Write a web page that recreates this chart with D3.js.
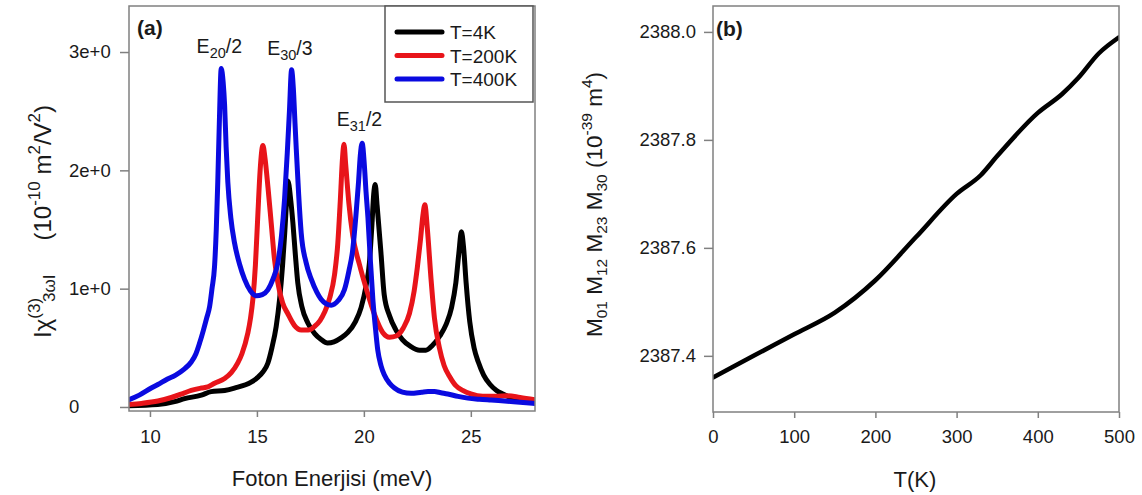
<!DOCTYPE html>
<html>
<head>
<meta charset="utf-8">
<script src="https://cdn.jsdelivr.net/npm/d3@7"></script>
<style>
  body { margin: 0; background: #fff; }
  svg text { font-family: "Liberation Sans", Arial, sans-serif; fill: #1a1a1a; }
</style>
</head>
<body>
<svg id="chart" width="1142" height="495"></svg>
<script>
// panel (a): |chi(3)| vs photon energy, [meV, 1e-10 m^2/V^2]
var chi4K = [
    [9.0, 0.01], [10.36, 0.02], [11.15, 0.045], [11.62, 0.07], [12.4, 0.1], [12.86, 0.13],
    [13.49, 0.14], [13.95, 0.16], [14.73, 0.21], [15.04, 0.25], [15.3, 0.3], [15.51, 0.37],
    [15.7, 0.5], [15.9, 0.68], [16.06, 0.91], [16.2, 1.2], [16.3, 1.47], [16.38, 1.72],
    [16.45, 1.91], [16.58, 1.75], [16.68, 1.56], [16.8, 1.28], [16.91, 1.05], [17.1, 0.85],
    [17.38, 0.71], [17.7, 0.62], [18.0, 0.57], [18.3, 0.54], [18.6, 0.55], [18.9, 0.58],
    [19.25, 0.63], [19.6, 0.72], [19.87, 0.84], [20.1, 1.02], [20.26, 1.22], [20.38, 1.55],
    [20.46, 1.8], [20.53, 1.88], [20.62, 1.7], [20.8, 1.3], [20.95, 0.95], [21.2, 0.77],
    [21.5, 0.65], [21.8, 0.57], [22.2, 0.51], [22.6, 0.48], [22.9, 0.48], [23.2, 0.52],
    [23.55, 0.6], [23.85, 0.7], [24.1, 0.84], [24.3, 1.05], [24.44, 1.3], [24.56, 1.48],
    [24.66, 1.35], [24.78, 1.05], [24.95, 0.72], [25.15, 0.5], [25.35, 0.38], [25.6, 0.27],
    [25.9, 0.19], [26.2, 0.14], [26.5, 0.11], [26.8, 0.085], [27.4, 0.065], [28.0, 0.045]
];
var chi200K = [
    [9.0, 0.02], [9.6, 0.03], [10.37, 0.05], [11.0, 0.08], [11.62, 0.12], [11.93, 0.14],
    [12.4, 0.16], [12.71, 0.17], [13.02, 0.2], [13.49, 0.24], [13.8, 0.29], [14.1, 0.37],
    [14.3, 0.45], [14.57, 0.62], [14.7, 0.75], [14.81, 0.91], [14.93, 1.2], [15.04, 1.61],
    [15.15, 2.0], [15.28, 2.21], [15.38, 2.1], [15.52, 1.85], [15.67, 1.55], [15.82, 1.25],
    [15.98, 1.05], [16.2, 0.88], [16.44, 0.79], [16.75, 0.69], [17.07, 0.65], [17.4, 0.65],
    [17.69, 0.68], [17.95, 0.73], [18.16, 0.8], [18.4, 0.92], [18.63, 1.12], [18.78, 1.38],
    [18.9, 1.75], [19.0, 2.1], [19.07, 2.22], [19.15, 2.05], [19.3, 1.72], [19.48, 1.45],
    [19.8, 1.2], [20.11, 1.0], [20.5, 0.78], [20.88, 0.63], [21.2, 0.59], [21.51, 0.6],
    [21.85, 0.67], [22.13, 0.79], [22.35, 0.98], [22.5, 1.18], [22.65, 1.42], [22.76, 1.62],
    [22.85, 1.71], [22.97, 1.5], [23.14, 1.08], [23.3, 0.75], [23.53, 0.5], [23.75, 0.35],
    [24.0, 0.26], [24.3, 0.18], [24.62, 0.14], [25.0, 0.11], [25.56, 0.09], [26.2, 0.09],
    [26.7, 0.095], [27.3, 0.08], [28.0, 0.06]
];
var chi400K = [
    [9.0, 0.06], [9.5, 0.1], [10.06, 0.16], [10.37, 0.19], [10.8, 0.235], [11.2, 0.27],
    [11.6, 0.32], [11.93, 0.38], [12.15, 0.45], [12.32, 0.54], [12.5, 0.65],
    [12.65, 0.75], [12.79, 0.85], [12.9, 1.0], [13.02, 1.19], [13.1, 1.5], [13.17, 1.9],
    [13.25, 2.45], [13.33, 2.86], [13.42, 2.75], [13.49, 2.55], [13.56, 2.2], [13.64, 1.9],
    [13.78, 1.6], [13.95, 1.39], [14.2, 1.2], [14.42, 1.08], [14.7, 0.98], [14.97, 0.94],
    [15.25, 0.95], [15.51, 0.99], [15.75, 1.08], [15.98, 1.22], [16.15, 1.45], [16.29, 1.75],
    [16.42, 2.15], [16.52, 2.5], [16.62, 2.85], [16.7, 2.7], [16.78, 2.4], [16.84, 2.18],
    [16.95, 1.8], [17.07, 1.47], [17.3, 1.22], [17.54, 1.08], [17.8, 0.97], [18.0, 0.91],
    [18.25, 0.87], [18.47, 0.86], [18.8, 0.9], [19.09, 0.99], [19.3, 1.15], [19.48, 1.33],
    [19.62, 1.6], [19.75, 1.9], [19.83, 2.12], [19.92, 2.23], [20.02, 2.05], [20.1, 1.82],
    [20.19, 1.6], [20.3, 1.25], [20.42, 0.91], [20.55, 0.65], [20.65, 0.48], [20.8, 0.35],
    [20.96, 0.27], [21.2, 0.2], [21.43, 0.16], [21.8, 0.125], [22.21, 0.115], [22.7, 0.125],
    [23.0, 0.13], [23.3, 0.13], [23.6, 0.12], [23.92, 0.11], [24.4, 0.09], [24.86, 0.075],
    [25.4, 0.065], [25.95, 0.058], [27.0, 0.045], [28.0, 0.03]
];
var seriesNames = ["T=4K", "T=200K", "T=400K"];
var seriesColors = ["#000000", "#e8141a", "#0a0ae0"];
var energyTicks = [10, 15, 20, 25];
var chiTicks = [0, 1, 2, 3];
var chiTickLabels = ["0", "1e+0", "2e+0", "3e+0"];
// peak labels: [energy, chi, main, sub, tail]
var peakLabels = [
    [13.35, 3.0, "E", "20", "/2"],
    [16.65, 2.98, "E", "30", "/3"],
    [19.9, 2.38, "E", "31", "/2"]
];

// panel (b): M01 M12 M23 M30 vs T
var tempK = [0, 50, 100, 150, 200, 250, 300, 330, 350, 400, 430, 450, 475, 500];
var moment = [2387.36, 2387.40, 2387.44, 2387.48, 2387.54, 2387.62, 2387.70, 2387.735,
              2387.77, 2387.85, 2387.885, 2387.915, 2387.96, 2387.99];
var tempTicks = [0, 100, 200, 300, 400, 500];
var momentTicks = [2387.4, 2387.6, 2387.8, 2388.0];

var svg = d3.select("#chart");
var axisColor = "#808080";

function styleAxis(g){
    g.select(".domain").remove();
    g.selectAll(".tick line").attr("stroke", axisColor).attr("stroke-width", 1.5);
    g.selectAll(".tick text").attr("font-size", 18.5).attr("fill", "#1a1a1a")
        .attr("font-family", "'Liberation Sans', Arial, sans-serif");
}

// ---------- panel (a)
var ax = d3.scaleLinear().domain([9.02, 28]).range([129, 535]);
var ay = d3.scaleLinear().domain([-0.034, 3.389]).range([411, 6]);

var gA = svg.append("g");

gA.append("g").attr("transform", "translate(0,411)")
    .call(d3.axisBottom(ax).tickValues(energyTicks).tickSize(6).tickPadding(13))
    .call(styleAxis);

gA.append("g").attr("transform", "translate(129,0)")
    .call(d3.axisLeft(ay).tickValues(chiTicks).tickSize(9)
        .tickFormat(function(d, i){ return chiTickLabels[i]; }))
    .call(styleAxis)
    .selectAll(".tick text").attr("text-anchor", "start").attr("x", -60);

var line = d3.line()
    .x(function(d){ return ax(d[0]); })
    .y(function(d){ return ay(d[1]); })
    .curve(d3.curveMonotoneX);

var clipA = svg.append("defs").append("clipPath").attr("id", "clipA")
    .append("rect").attr("x", 129).attr("y", 6).attr("width", 406).attr("height", 405);

[chi4K, chi200K, chi400K].forEach(function(s, i){
    gA.append("path").datum(s)
        .attr("d", line)
        .attr("clip-path", "url(#clipA)")
        .attr("fill", "none")
        .attr("stroke", seriesColors[i])
        .attr("stroke-width", 5)
        .attr("stroke-linejoin", "round")
        .attr("stroke-linecap", "round");
});

gA.append("rect").attr("x", 129).attr("y", 6).attr("width", 406).attr("height", 405)
    .attr("fill", "none").attr("stroke", axisColor).attr("stroke-width", 1.5);

peakLabels.forEach(function(p){
    var t = gA.append("text").attr("x", ax(p[0]) - 25).attr("y", ay(p[1]) + 1)
        .attr("font-size", 19.5);
    t.append("tspan").text(p[2]);
    t.append("tspan").attr("font-size", 14.5).attr("dy", 5).text(p[3]);
    t.append("tspan").attr("dy", -5).text(p[4]);
});

gA.append("text").attr("x", 137).attr("y", 35).attr("font-size", 21)
    .attr("font-weight", "bold").text("(a)");

// legend
var leg = gA.append("g");
leg.append("rect").attr("x", 385).attr("y", 6).attr("width", 148).attr("height", 96)
    .attr("fill", "#fff").attr("stroke", "#555").attr("stroke-width", 1.5);
seriesNames.forEach(function(n, i){
    var yy = 32 + i * 23.5;
    leg.append("line").attr("x1", 397).attr("x2", 442).attr("y1", yy).attr("y2", yy)
        .attr("stroke", seriesColors[i]).attr("stroke-width", 5).attr("stroke-linecap", "round");
    leg.append("text").attr("x", 450).attr("y", yy + 7).attr("font-size", 19).text(n);
});

gA.append("text").attr("x", 332).attr("y", 486).attr("text-anchor", "middle")
    .attr("font-size", 22).text("Foton Enerjisi (meV)");

var ytA = gA.append("text").attr("transform", "translate(51,338) rotate(-90)")
    .attr("font-size", 24);
ytA.append("tspan").text("I\u03c7");
ytA.append("tspan").attr("font-size", 17).attr("dy", -11).text("(3)");
ytA.append("tspan").attr("font-size", 17).attr("dy", 15).attr("dx", -4).text("3\u03c9I");
ytA.append("tspan").attr("dy", -4).attr("dx", 34).text("(10");
ytA.append("tspan").attr("font-size", 17).attr("dy", -11).text("-10");
ytA.append("tspan").attr("dy", 11).text(" m");
ytA.append("tspan").attr("font-size", 17).attr("dy", -11).text("2");
ytA.append("tspan").attr("dy", 11).text("/V");
ytA.append("tspan").attr("font-size", 17).attr("dy", -11).text("2");
ytA.append("tspan").attr("dy", 11).text(")");

// ---------- panel (b)
var bx = d3.scaleLinear().domain([0, 500]).range([713, 1119]);
var by = d3.scaleLinear().domain([2387.296, 2388.048]).range([412, 6]);

var gB = svg.append("g");

gB.append("g").attr("transform", "translate(0,412)")
    .call(d3.axisBottom(bx).tickValues(tempTicks).tickSize(6).tickPadding(12))
    .call(styleAxis);

gB.append("g").attr("transform", "translate(713,0)")
    .call(d3.axisLeft(by).tickValues(momentTicks).tickSize(9).tickPadding(8)
        .tickFormat(d3.format(".1f")))
    .call(styleAxis);

var clipB = svg.select("defs").append("clipPath").attr("id", "clipB")
    .append("rect").attr("x", 713).attr("y", 6).attr("width", 406).attr("height", 406);

gB.append("path").datum(d3.zip(tempK, moment))
    .attr("d", d3.line()
        .x(function(d){ return bx(d[0]); })
        .y(function(d){ return by(d[1]); })
        .curve(d3.curveMonotoneX))
    .attr("clip-path", "url(#clipB)")
    .attr("fill", "none").attr("stroke", "#000").attr("stroke-width", 4.5)
    .attr("stroke-linecap", "round");

gB.append("rect").attr("x", 713).attr("y", 6).attr("width", 406).attr("height", 406)
    .attr("fill", "none").attr("stroke", axisColor).attr("stroke-width", 1.5);

gB.append("text").attr("x", 716).attr("y", 36).attr("font-size", 21)
    .attr("font-weight", "bold").text("(b)");

gB.append("text").attr("x", 915).attr("y", 487).attr("text-anchor", "middle")
    .attr("font-size", 22).text("T(K)");

var ytB = gB.append("text").attr("transform", "translate(602,337) rotate(-90)")
    .attr("font-size", 22.5);
["01", "12", "23", "30"].forEach(function(s, i){
    ytB.append("tspan").attr("dy", i ? -5 : 0).text(i ? " M" : "M");
    ytB.append("tspan").attr("font-size", 15.5).attr("dy", 5).text(s);
});
ytB.append("tspan").attr("dy", -5).text(" (10");
ytB.append("tspan").attr("font-size", 15.5).attr("dy", -10).text("-39");
ytB.append("tspan").attr("dy", 10).text(" m");
ytB.append("tspan").attr("font-size", 15.5).attr("dy", -10).text("4");
ytB.append("tspan").attr("dy", 10).text(")");
</script>
</body>
</html>
